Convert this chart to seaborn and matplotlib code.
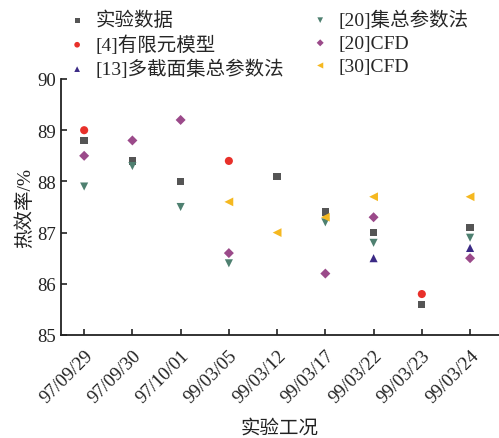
import numpy as np
import pandas as pd
import matplotlib
matplotlib.use("Agg")
import matplotlib.pyplot as plt
import seaborn as sns

categories = ["97/09/29", "97/09/30", "97/10/01", "99/03/05", "99/03/12",
              "99/03/17", "99/03/22", "99/03/23", "99/03/24"]
nan = np.nan
exp_data   = [88.8, 88.4, 88.0, nan, 88.1, 87.4, 87.0, 85.6, 87.1]
fem4       = [89.0, nan, nan, 88.4, nan, nan, nan, 85.8, nan]
multi13    = [nan, nan, nan, nan, nan, nan, 86.5, nan, 86.7]
lumped20   = [87.9, 88.3, 87.5, 86.4, nan, 87.2, 86.8, nan, 86.9]
cfd20      = [88.5, 88.8, 89.2, 86.6, nan, 86.2, 87.3, nan, 86.5]
cfd30      = [nan, nan, nan, 87.6, 87.0, 87.3, 87.7, nan, 87.7]

series_names = ["实验数据", "[4]有限元模型", "[13]多截面集总参数法",
                "[20]集总参数法", "[20]CFD", "[30]CFD"]
series_vals = [exp_data, fem4, multi13, lumped20, cfd20, cfd30]
colors = ["#555555", "#e8302a", "#3b2a85", "#4e8070", "#9b4a8a", "#f5b820"]
marker_list = ["s", "o", "^", "v", "D", "<"]
sizes = [28, 34, 34, 34, 26, 40]

rows = []
for name, vals in zip(series_names, series_vals):
    for i, v in enumerate(vals):
        if not np.isnan(v):
            rows.append({"x": i, "y": v, "method": name})
df = pd.DataFrame(rows)

sns.set_theme(style="ticks")
fam = ["Liberation Serif", "Noto Sans CJK SC", "DejaVu Sans"]
plt.rcParams["font.family"] = fam
plt.rcParams["axes.unicode_minus"] = False

fig = plt.figure(figsize=(4.99, 4.39), dpi=100)
ax = fig.add_axes([61/499, (439-336)/439, 1 - 61/499, (336-80)/439])

for name, vals, c, m, s in zip(series_names, series_vals, colors, marker_list, sizes):
    sub = df[df["method"] == name]
    sns.scatterplot(data=sub, x="x", y="y", ax=ax, color=c, marker=m, s=s,
                    edgecolor="none", linewidth=0, label=name, legend=True)

ax.set_xlim(-0.48, 8.6)
ax.set_ylim(85, 90)
ax.set_yticks([85, 86, 87, 88, 89, 90])
ax.set_xticks(range(len(categories)))
ax.set_xticklabels(categories, rotation=45, ha="right", va="top",
                   rotation_mode="anchor", fontsize=13.5)
ax.tick_params(axis="both", direction="in", length=4, width=1.2, colors="#222222",
               labelcolor="#222222", labelsize=13.5)
ax.tick_params(axis="x", pad=8)
sns.despine(ax=ax, top=True, right=True)
for sp in ["left", "bottom"]:
    ax.spines[sp].set_linewidth(1.3)
    ax.spines[sp].set_color("#222222")

ax.set_xlabel("实验工况", fontsize=14, color="#222222", labelpad=10)
ax.set_ylabel("热效率/%", fontsize=14, color="#222222", labelpad=2)

handles, labels = ax.get_legend_handles_labels()
ax.get_legend().remove()
fig.legend(handles, labels, ncol=2, loc="upper left", bbox_to_anchor=(0.10, 1.015),
           frameon=False, fontsize=14, markerscale=0.7, handletextpad=0.45,
           columnspacing=1.35, labelspacing=0.26, handlelength=1.0)

fig.savefig("out.png", dpi=100)
